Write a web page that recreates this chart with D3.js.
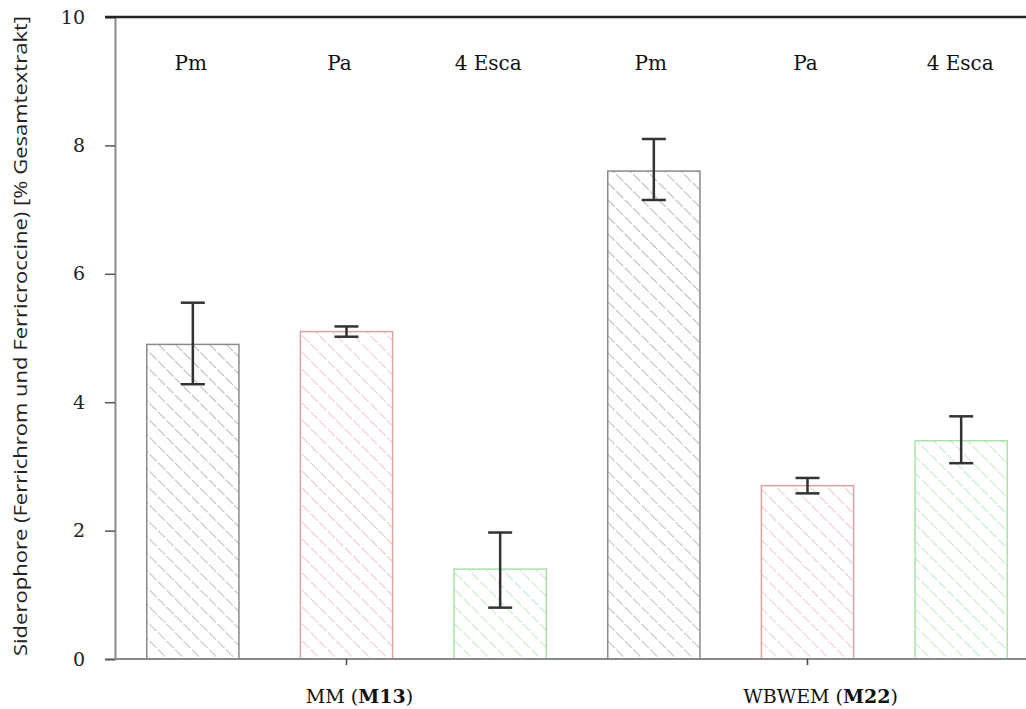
<!DOCTYPE html>
<html><head><meta charset="utf-8">
<script src="https://cdn.jsdelivr.net/npm/d3@7"></script>
<style>body{margin:0;background:#fff;} svg{display:block;}</style>
</head><body>
<script>
const categories = ["Pm","Pa","4 Esca","Pm","Pa","4 Esca"];
const groups = ["MM","MM","MM","WBWEM","WBWEM","WBWEM"];
const values = [4.9, 5.1, 1.4, 7.6, 2.7, 3.4];
const errLow = [4.28, 5.02, 0.8, 7.15, 2.58, 3.05];
const errHigh = [5.55, 5.18, 1.97, 8.1, 2.82, 3.78];
const seriesKind = ["gray","red","green","gray","red","green"];
const yTicks = [0,2,4,6,8,10];
const groupLabels = [{pre:"MM (", bold:"M13", post:")", at:1},{pre:"WBWEM (", bold:"M22", post:")", at:4}];

const W=1026,H=709;
const svg=d3.select("body").append("svg").attr("width",W).attr("height",H);
const colors={gray:{stroke:"#8a8a8a",hatch:"#9a9a9a"},red:{stroke:"#d9a3a3",hatch:"#e3a9ad"},green:{stroke:"#a8e3a8",hatch:"#a6e0a6"}};
const defs=svg.append("defs");
Object.entries(colors).forEach(([k,c])=>{
  const p=defs.append("pattern").attr("id","h-"+k).attr("patternUnits","userSpaceOnUse")
    .attr("width",12).attr("height",12).attr("patternTransform","rotate(-45)");
  p.append("rect").attr("width",12).attr("height",12).attr("fill","#fff");
  p.append("line").attr("x1",0).attr("y1",0).attr("x2",0).attr("y2",12)
    .attr("stroke",c.hatch).attr("stroke-width",1.3).attr("stroke-dasharray","5,2");
});

const x=d3.scaleBand().domain(d3.range(6)).range([116,1038]).paddingInner(0.4).paddingOuter(0.2);
const y=d3.scaleLinear().domain([0,10]).range([659,17]);

// bars
svg.selectAll("rect.bar").data(values).join("rect").attr("class","bar")
  .attr("x",(d,i)=>x(i)).attr("width",x.bandwidth())
  .attr("y",d=>y(d)).attr("height",d=>y(0)-y(d))
  .attr("fill",(d,i)=>"url(#h-"+seriesKind[i]+")")
  .attr("stroke",(d,i)=>colors[seriesKind[i]].stroke).attr("stroke-width",1.5);

// axes
const yAxis=svg.append("g").attr("transform","translate(115,0)")
  .call(d3.axisLeft(y).tickValues(yTicks).tickSize(10).tickPadding(20).tickFormat(d3.format("d")));
yAxis.select(".domain").attr("stroke","#8a8a8a").attr("stroke-width",2);
yAxis.selectAll(".tick line").attr("stroke","#555").attr("stroke-width",1.5);
yAxis.selectAll(".tick text").attr("font-family","'DejaVu Serif', serif").attr("font-size",19).attr("fill","#222");

// baseline
svg.append("line").attr("x1",115).attr("x2",W).attr("y1",y(0)).attr("y2",y(0)).attr("stroke","#8a8a8a").attr("stroke-width",2);
// top line
svg.append("line").attr("x1",105).attr("x2",W).attr("y1",y(10)).attr("y2",y(10)).attr("stroke","#222").attr("stroke-width",2.5);

// x ticks at middle bars
groupLabels.forEach(g=>{
  const cx=x(g.at)+x.bandwidth()/2;
  svg.append("line").attr("x1",cx).attr("x2",cx).attr("y1",y(0)).attr("y2",y(0)+6).attr("stroke","#444").attr("stroke-width",1.5);
  const t=svg.append("text").attr("x",cx+13).attr("y",703).attr("text-anchor","middle")
    .attr("font-family","'DejaVu Serif', serif").attr("font-size",19).attr("fill","#111");
  t.append("tspan").text(g.pre);
  t.append("tspan").attr("font-weight","bold").text(g.bold);
  t.append("tspan").text(g.post);
});

// error bars
const eb=svg.append("g");
values.forEach((v,i)=>{
  const cx=x(i)+x.bandwidth()/2;
  eb.append("line").attr("x1",cx).attr("x2",cx).attr("y1",y(errLow[i])).attr("y2",y(errHigh[i])).attr("stroke","#333").attr("stroke-width",2.5);
  [errLow[i],errHigh[i]].forEach(e=>{
    eb.append("line").attr("x1",cx-12).attr("x2",cx+12).attr("y1",y(e)).attr("y2",y(e)).attr("stroke","#333").attr("stroke-width",2.5);
  });
});

// top category labels
const labelShift=[-2,-7,-12,-3,-2,-1];
svg.selectAll("text.cat").data(categories).join("text").attr("class","cat")
  .attr("x",(d,i)=>x(i)+x.bandwidth()/2+labelShift[i]).attr("y",70).attr("text-anchor","middle")
  .attr("font-family","'DejaVu Serif', serif").attr("font-size",20).attr("fill","#111").text(d=>d);

// y title
svg.append("text").attr("transform","translate(27,336) rotate(-90)").attr("text-anchor","middle")
  .attr("font-family","'Open Sans', sans-serif").attr("font-size",18).attr("fill","#222")
  .attr("textLength",640).attr("lengthAdjust","spacingAndGlyphs")
  .text("Siderophore (Ferrichrom und Ferricroccine) [% Gesamtextrakt]");
</script>
</body></html>
